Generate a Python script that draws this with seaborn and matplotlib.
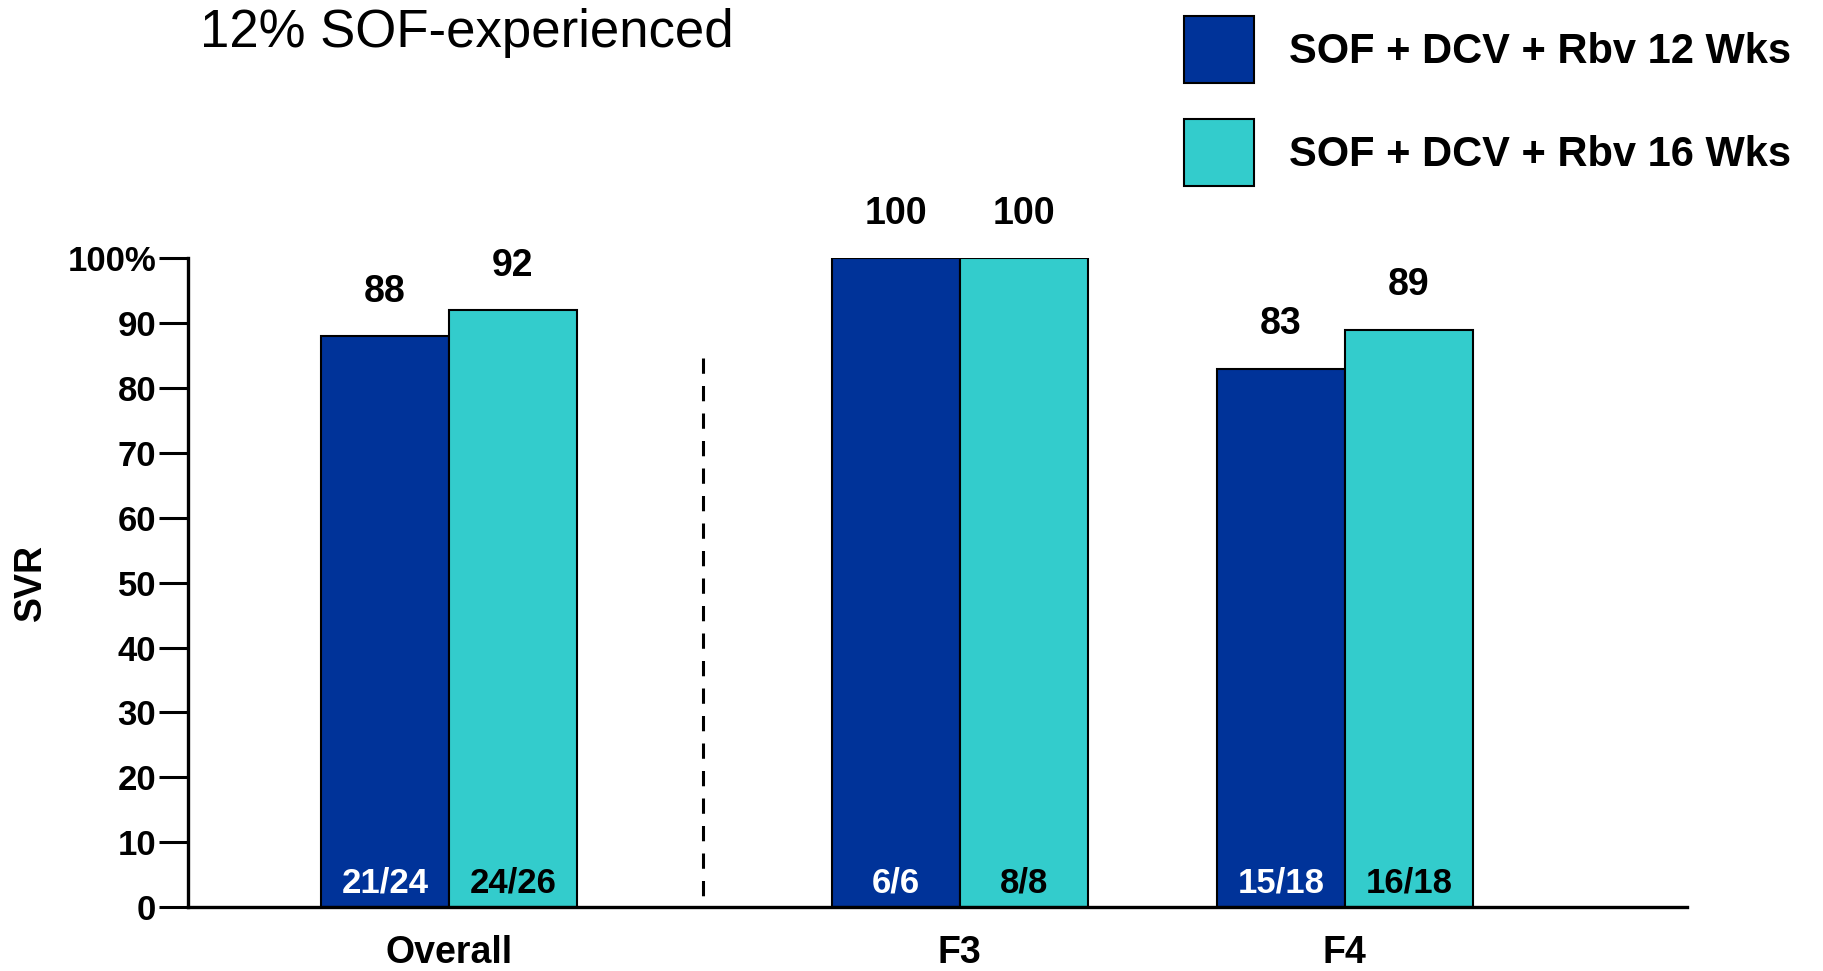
import matplotlib
matplotlib.use("Agg")
import matplotlib.pyplot as plt
import seaborn as sns
import pandas as pd

# Data
groups = ["Overall", "F3", "F4"]
regimens = ["SOF + DCV + Rbv 12 Wks", "SOF + DCV + Rbv 16 Wks"]
svr_12wk = [88, 100, 83]
svr_16wk = [92, 100, 89]
counts_12wk = ["21/24", "6/6", "15/18"]
counts_16wk = ["24/26", "8/8", "16/18"]
y_ticks = [0, 10, 20, 30, 40, 50, 60, 70, 80, 90, 100]
y_tick_labels = ["0", "10", "20", "30", "40", "50", "60", "70", "80", "90", "100%"]
title_text = "12% SOF-experienced"

# Layout: group centres on a numeric axis (Overall set apart from F3/F4)
group_pos = [0.0, 1.326, 2.326]
divider_x = 0.659
divider_top = 84.6

colors = ["#003399", "#33CCCC"]
count_colors = ["white", "black"]

df = pd.DataFrame({
    "pos": group_pos * 2,
    "svr": svr_12wk + svr_16wk,
    "regimen": [regimens[0]] * 3 + [regimens[1]] * 3,
})

sns.set_theme(style="white")
plt.rcParams["font.family"] = ["Liberation Sans", "DejaVu Sans"]
plt.rcParams["text.color"] = "black"
plt.rcParams["axes.labelcolor"] = "black"
plt.rcParams["xtick.color"] = "black"
plt.rcParams["ytick.color"] = "black"

fig = plt.figure(figsize=(18.24, 9.71), dpi=100)
ax = fig.add_axes([0.1031, 0.0659, 0.822, 0.668])

sns.barplot(data=df, x="pos", y="svr", hue="regimen", hue_order=regimens,
            native_scale=True, width=0.665, dodge=True,
            palette=colors, edgecolor="black", linewidth=1.5,
            saturation=1, errorbar=None, ax=ax)

handles, labels = ax.get_legend_handles_labels()
if ax.get_legend() is not None:
    ax.get_legend().remove()

# Value labels above bars, counts inside bar bases
values = [svr_12wk, svr_16wk]
counts = [counts_12wk, counts_16wk]
for k, cont in enumerate(ax.containers):
    for j, bar in enumerate(cont.patches):
        cx = bar.get_x() + bar.get_width() / 2
        ax.annotate(f"{values[k][j]}", (cx, values[k][j]),
                    xytext=(0, 32), textcoords="offset points",
                    ha="center", va="center", fontsize=27,
                    fontweight="bold", color="black", annotation_clip=False)
        ax.text(cx, 3.7, counts[k][j], ha="center", va="center",
                fontsize=25, fontweight="bold", color=count_colors[k])

# Dashed divider between overall and fibrosis subgroups (drawn top-down)
ax.plot([divider_x, divider_x], [divider_top, 0], color="black",
        linestyle=(0, (5, 4)), linewidth=2.2, clip_on=False)

ax.set_xlim(-0.677, 3.215)
ax.set_ylim(0, 100)
ax.set_yticks(y_ticks)
ax.set_yticklabels(y_tick_labels, fontsize=25, fontweight="bold")
ax.set_xticks(group_pos)
ax.set_xticklabels(groups, fontsize=27, fontweight="bold")
ax.tick_params(axis="y", direction="out", length=21, width=2.2,
               color="black", pad=2, left=True)
ax.tick_params(axis="x", length=0, pad=20)
ax.set_xlabel("")
ax.set_ylabel("SVR", fontsize=27, fontweight="bold", labelpad=13)

for side in ["top", "right"]:
    ax.spines[side].set_visible(False)
for side in ["left", "bottom"]:
    ax.spines[side].set_color("black")
    ax.spines[side].set_linewidth(2.4)

fig.text(0.1097, 0.992, title_text, fontsize=38, ha="left", va="top",
         color="black")

fig.legend(handles, labels, loc="upper left",
           bbox_to_anchor=(1184 / 1824, 1 - 16 / 971),
           frameon=False, prop={"weight": "bold", "size": 30},
           handlelength=1.68, handleheight=2.115, handletextpad=0.84,
           labelspacing=0.85, borderpad=0, borderaxespad=0)

fig.savefig("out.png", dpi=100, facecolor="white")
